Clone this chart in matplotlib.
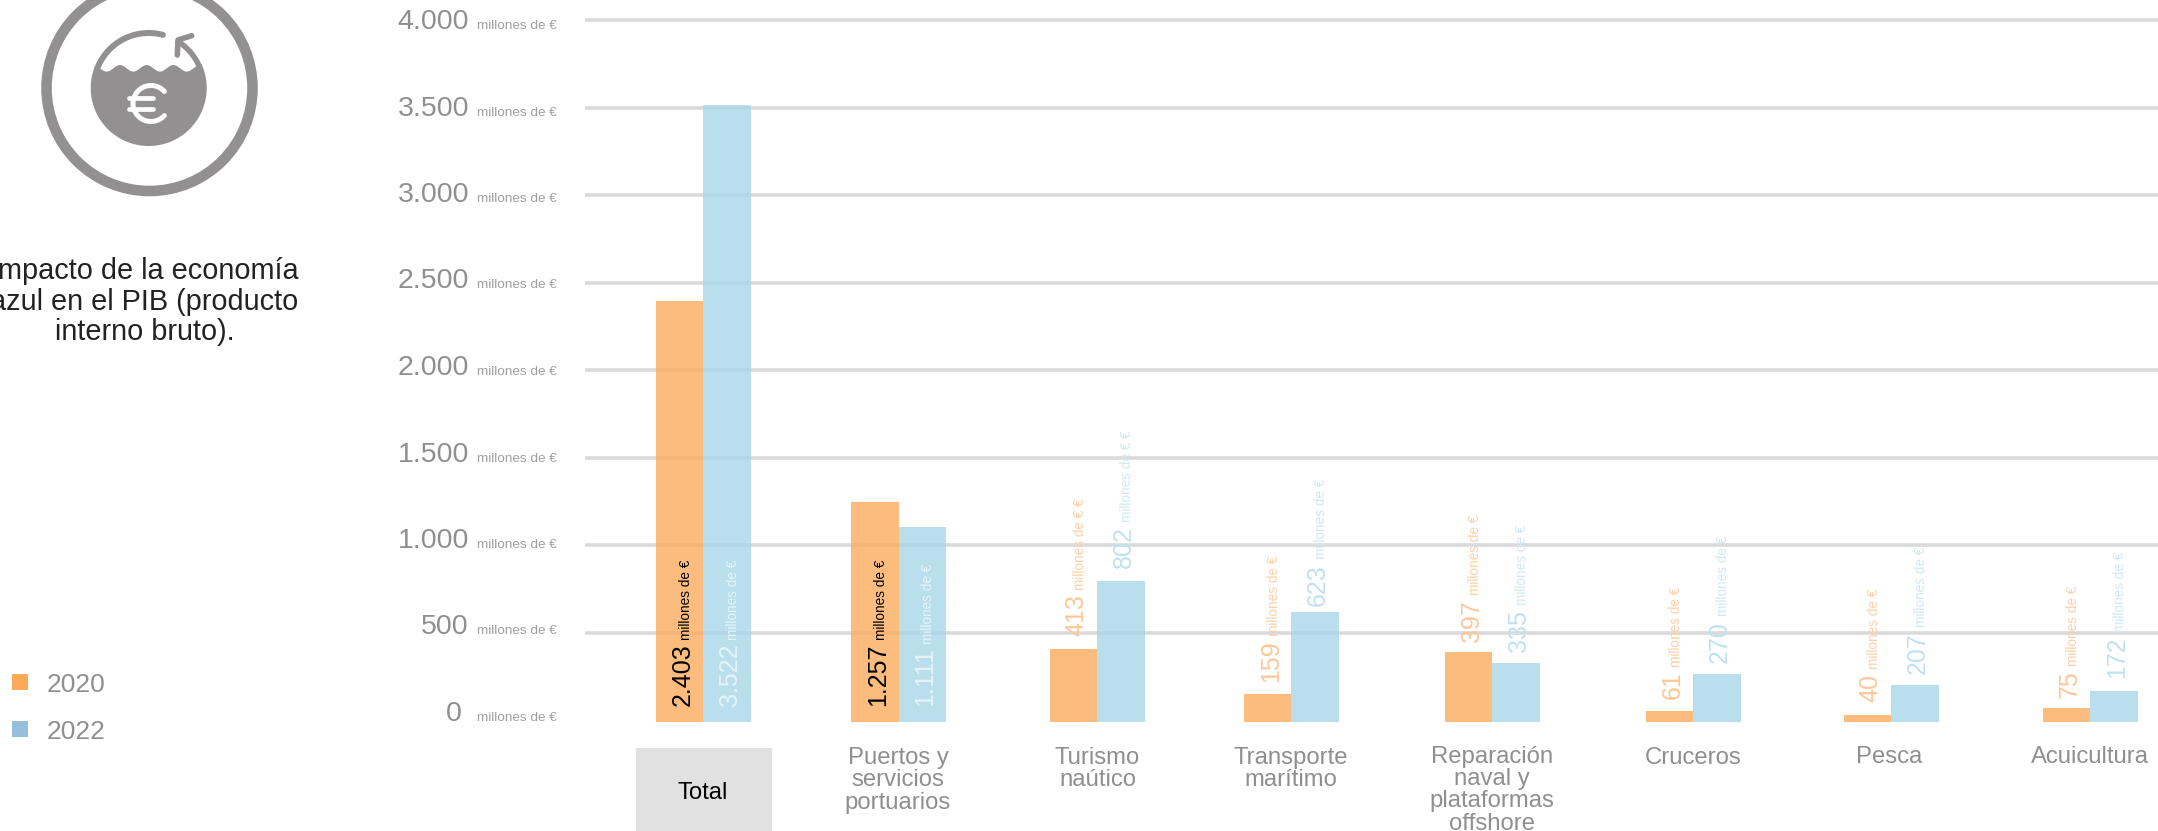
import matplotlib
matplotlib.use('Agg')
import matplotlib.pyplot as plt
import matplotlib.transforms as mtransforms
from matplotlib.patches import Circle, Rectangle
import numpy as np

plt.rcParams['font.family'] = ['Liberation Sans', 'DejaVu Sans']

categories = [['Total'],
              ['Puertos y', 'servicios', 'portuarios'],
              ['Turismo', 'naútico'],
              ['Transporte', 'marítimo'],
              ['Reparación', 'naval y', 'plataformas', 'offshore'],
              ['Cruceros'],
              ['Pesca'],
              ['Acuicultura']]
values_2020 = [2403, 1257, 413, 159, 397, 61, 40, 75]
values_2022 = [3522, 1111, 802, 623, 335, 270, 207, 172]
units_2020 = ['millones de €', 'millones de €', 'millones de € €', 'millones de €',
              'millones de €', 'millones de €', 'millones de €', 'millones de €']
units_2022 = ['millones de €', 'millones de €', 'millones de € €', 'millones de €',
              'millones de €', 'millones de €', 'millones de €', 'millones de €']
y_ticks = [0, 500, 1000, 1500, 2000, 2500, 3000, 3500, 4000]
legend_names = ['2020', '2022']
title_lines = ['Impacto de la economía', 'azul en el PIB (producto', 'interno bruto).']

# layout, in pixels of the picture
W, H = 2158, 831
PX_PER_UNIT = 0.175
Y0 = 721.5
centres = [703, 898.5, 1097, 1291, 1492, 1693, 1891, 2090]
label_x = [703, 898, 1097.5, 1291, 1492, 1693, 1889.5, 2090]
label_base = [799, 764, 764, 764, 762.5, 764, 763, 763]
bar_w = 47.5
num_y_2020 = [706.5, 705.5, 636.5, 681.5, 641.5, 699, 702.5, 697.5]
num_y_2022 = [706.5, 705.5, 568, 606, 651.5, 663, 674, 677.5]
unit_y_2020 = [640, 640, 590, 636.5, 595, 667, 669, 665.5]
unit_y_2022 = [640, 644, 521.5, 559, 605, 616.5, 627, 631.5]

ORANGE = '#fcac5e'
BLUE = '#a8d6e8'
GREY = '#8f8f8f'
ICON = '#929090'

fig = plt.figure(figsize=(W / 100, H / 100), dpi=100)

# chart axes: x in pixels, y in millions of euros
ax = fig.add_axes([0, 0, 1, 1])
ax.set_xlim(0, W)
ax.set_ylim((Y0 - H) / PX_PER_UNIT, Y0 / PX_PER_UNIT)
ax.axis('off')

# overlay for texts and the icon, in pixels from the top left
ov = fig.add_axes([0, 0, 1, 1])
ov.set_xlim(0, W)
ov.set_ylim(H, 0)
ov.axis('off')
ov.patch.set_alpha(0)

# gridlines sit 1.5 px above the bars' own zero
grid_trans = mtransforms.offset_copy(ax.transData, fig=fig, y=1.5, units='dots')
for t in y_ticks[1:]:
    ax.plot([585, W], [t, t], color='#dadada', lw=2.6, transform=grid_trans,
            solid_capstyle='butt', zorder=1)

cx = np.array(centres)
ax.bar(cx - bar_w / 2, values_2020, bar_w, color=ORANGE, alpha=0.8, linewidth=0, zorder=2)
ax.bar(cx + bar_w / 2, values_2022, bar_w, color=BLUE, alpha=0.8, linewidth=0, zorder=2)

# y axis labels
tick_base = np.linspace(721, 29, len(y_ticks))
for t, b in zip(y_ticks, tick_base):
    txt = f'{t:,}'.replace(',', '.')
    ov.text(462 if t == 0 else 469, b, txt, ha='right', va='baseline', fontsize=20.5, color=GREY)
    ov.text(477, b, 'millones de €', ha='left', va='baseline', fontsize=9.7, color='#a0a0a0')


def bar_label(x, y_num, y_unit, value, unit, c_num, c_unit):
    txt = f'{value:,}'.replace(',', '.')
    ov.text(x, y_num, txt, rotation=90, rotation_mode='anchor', ha='left', va='baseline',
            fontsize=18, color=c_num)
    ov.text(x, y_unit, unit, rotation=90, rotation_mode='anchor', ha='left', va='baseline',
            fontsize=9.8, color=c_unit)


for i in range(len(values_2020)):
    if i < 2:
        c1, c2 = 'black', 'black'
        c3, c4 = '#e6f4fa', '#e6f4fa'
    else:
        c1, c2 = '#fdc797', '#fdd0a8'
        c3, c4 = '#bfe2f0', '#cfe9f4'
    bar_label(cx[i] - bar_w / 2 + 10.5, num_y_2020[i], unit_y_2020[i], values_2020[i], units_2020[i], c1, c2)
    bar_label(cx[i] + bar_w / 2 + 10, num_y_2022[i], unit_y_2022[i], values_2022[i], units_2022[i], c3, c4)

# category labels
ov.add_patch(Rectangle((636, 748), 136, 83, color='#e1e1e1', lw=0))
for i, lines in enumerate(categories):
    for j, line in enumerate(lines):
        ov.text(label_x[i], label_base[i] + j * 22.4, line, ha='center', va='baseline', fontsize=17.2,
                color='black' if i == 0 else GREY)

# title on the left, it runs off the picture
for j, line in enumerate(title_lines):
    ov.text(144.5, 279 + j * 30.6, line, ha='center', va='baseline', fontsize=20.8, color='#222222')

# legend
for j, (name, c) in enumerate(zip(legend_names, ['#fea958', '#97bfdc'])):
    ov.add_patch(Rectangle((12, 674 + j * 47), 16, 16, color=c, lw=0))
    ov.text(46.5, 692 + j * 47, name, ha='left', va='baseline', fontsize=19, color=GREY)

# icon: ring, water, circular arrow and the euro sign
ICX, ICY = 148.7, 88
ov.add_patch(Circle((149.5, 88), 103, fill=False, ec=ICON, lw=7.6))
wave_x = np.linspace(100, 197, 80)
wave_y = 68.3 - 3.3 * np.cos((wave_x - 120) / 26.7 * 2 * np.pi)
a = np.linspace(np.arctan2(wave_y[-1] - ICY, wave_x[-1] - ICX),
                np.arctan2(wave_y[0] - ICY, wave_x[0] - ICX) + 2 * np.pi, 80)
ov.fill(np.r_[wave_x, ICX + 58 * np.cos(a)], np.r_[wave_y, ICY + 58 * np.sin(a)], color=ICON, lw=0)
a = np.radians(np.linspace(201, 285, 50))
ov.plot(ICX + 55 * np.cos(a), ICY + 55 * np.sin(a), color=ICON, lw=4.3, solid_capstyle='round')
a = np.radians(np.linspace(-22, -60, 30))
ov.plot(ICX + 55 * np.cos(a), ICY + 55 * np.sin(a), color=ICON, lw=4, solid_capstyle='butt')
ov.plot([191.7, 178, 177.3], [35.7, 40, 55], color=ICON, lw=4, solid_capstyle='round', solid_joinstyle='round')
a = np.radians(np.linspace(42, 318, 60))
ov.plot(151 + 18 * np.cos(a), 103.5 + 18 * np.sin(a), color='white', lw=3.6, solid_capstyle='round')
ov.plot([128.5, 152.5], [98.3, 98.3], color='white', lw=3.4, solid_capstyle='round')
ov.plot([128.5, 152.5], [109.3, 109.3], color='white', lw=3.4, solid_capstyle='round')

fig.savefig('out.png', dpi=100)
